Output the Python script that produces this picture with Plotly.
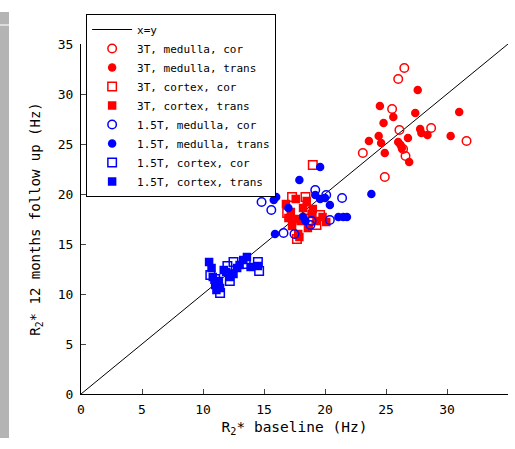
import plotly.graph_objects as go

# ---- data ----
x_line = [0, 35]
y_line = [0, 35]

t3_med_cor_x = [26.5, 26.0, 25.5, 28.7, 26.1, 31.6, 23.1, 26.6, 24.9, 26.4]
t3_med_cor_y = [32.6, 31.5, 28.5, 26.6, 26.4, 25.3, 24.1, 23.8, 21.7, 24.5]

t3_med_tr_x = [27.6, 24.5, 25.6, 27.4, 31.0, 24.8, 27.8, 27.9, 28.4, 30.3, 23.6, 24.4,
               24.6, 24.9, 26.0, 26.8, 26.3, 26.9, 26.2]
t3_med_tr_y = [30.4, 28.8, 27.7, 28.1, 28.2, 27.1, 26.5, 26.1, 25.9, 25.8, 25.3, 25.8,
               25.1, 24.1, 25.2, 25.6, 24.6, 23.2, 24.9]

t3_cor_cor_x = [19.0, 17.3, 18.4, 19.6, 19.3, 17.7, 18.6, 16.9]
t3_cor_cor_y = [22.9, 19.7, 19.7, 17.9, 16.9, 15.5, 18.4, 18.1]

t3_cor_tr_x = [16.8, 17.2, 17.5, 17.3, 17.8, 17.9, 18.2, 18.5, 18.9, 19.3, 19.8, 18.0,
               17.0, 19.0, 18.6, 17.6, 20.1]
t3_cor_tr_y = [19.0, 18.2, 17.5, 16.8, 16.0, 15.7, 18.6, 19.3, 18.0, 17.3, 17.7, 17.3,
               17.6, 18.5, 16.6, 19.5, 17.2]

t15_med_cor_x = [14.8, 15.6, 19.2, 20.1, 21.4, 20.4, 18.8, 16.6, 17.5, 18.9]
t15_med_cor_y = [19.2, 18.4, 20.4, 19.9, 19.6, 17.4, 16.9, 16.1, 16.0, 17.3]

t15_med_tr_x = [19.6, 17.9, 15.8, 16.0, 17.0, 19.2, 19.6, 20.4, 18.2, 18.4, 21.1, 21.5,
                21.8, 15.9, 23.8, 20.0]
t15_med_tr_y = [22.7, 21.4, 19.4, 19.7, 18.6, 19.9, 19.5, 18.9, 17.7, 17.3, 17.7, 17.7,
                17.7, 16.0, 20.0, 19.6]

t15_cor_cor_x = [11.4, 12.5, 14.5, 12.2, 10.6, 11.0, 13.5, 12.0, 14.6]
t15_cor_cor_y = [10.1, 13.2, 13.2, 11.3, 11.9, 11.5, 13.0, 12.8, 12.3]

t15_cor_tr_x = [10.5, 10.7, 10.8, 11.0, 11.1, 11.7, 11.9, 12.2, 12.8, 13.0, 13.3, 13.6,
                13.9, 11.3, 11.4, 14.5, 12.5]
t15_cor_tr_y = [13.2, 12.6, 11.7, 10.9, 10.4, 12.4, 12.2, 11.7, 12.6, 12.9, 13.4, 13.7,
                12.7, 11.3, 10.6, 12.8, 12.0]

tick_vals = [0, 5, 10, 15, 20, 25, 30, 35]

RED = "#ff0000"
BLUE = "#0000ff"
FONT = "DejaVu Sans Mono"

fig = go.Figure()
fig.add_trace(go.Scatter(x=x_line, y=y_line, mode="lines", name="x=y",
                         line=dict(color="black", width=1)))

series = [
    ("3T, medulla, cor", t3_med_cor_x, t3_med_cor_y, "circle-open", RED),
    ("3T, medulla, trans", t3_med_tr_x, t3_med_tr_y, "circle", RED),
    ("3T, cortex, cor", t3_cor_cor_x, t3_cor_cor_y, "square-open", RED),
    ("3T, cortex, trans", t3_cor_tr_x, t3_cor_tr_y, "square", RED),
    ("1.5T, medulla, cor", t15_med_cor_x, t15_med_cor_y, "circle-open", BLUE),
    ("1.5T, medulla, trans", t15_med_tr_x, t15_med_tr_y, "circle", BLUE),
    ("1.5T, cortex, cor", t15_cor_cor_x, t15_cor_cor_y, "square-open", BLUE),
    ("1.5T, cortex, trans", t15_cor_tr_x, t15_cor_tr_y, "square", BLUE),
]
for name, xs, ys, sym, col in series:
    fig.add_trace(go.Scatter(
        x=xs, y=ys, mode="markers", name=name,
        marker=dict(symbol=sym, color=col, size=8.5,
                    line=dict(color=col, width=1.5 if "open" in sym else 0)),
    ))

fig.update_layout(
    width=515, height=449,
    margin=dict(l=81, r=7, t=44, b=55, autoexpand=False),
    paper_bgcolor="white", plot_bgcolor="white",
    font=dict(family=FONT, size=13, color="black"),
    showlegend=True,
    legend=dict(x=0.012, y=1.0857, xanchor="left", yanchor="top",
                bordercolor="black", borderwidth=1, bgcolor="white",
                font=dict(family=FONT, size=11), itemwidth=40,
                tracegroupgap=0),
    xaxis=dict(range=[0, 35], tickvals=tick_vals, ticks="inside", ticklen=5,
               showline=True, linecolor="black", linewidth=1, showgrid=False,
               zeroline=False, mirror=False, ticklabelstandoff=3,
               title=dict(text="R<sub>2</sub>* baseline (Hz)", standoff=6,
                          font=dict(family=FONT, size=14.5))),
    yaxis=dict(range=[0, 35], tickvals=tick_vals, ticks="inside", ticklen=5,
               showline=True, linecolor="black", linewidth=1, showgrid=False,
               zeroline=False, mirror=False, ticklabelstandoff=4,
               title=dict(text="R<sub>2</sub>* 12 months follow up (Hz)", standoff=13,
                          font=dict(family=FONT, size=14))),
    shapes=[
        dict(type="rect", xref="paper", yref="paper",
             x0=-81 / 427, x1=-72 / 427, y0=-44 / 350, y1=382 / 350,
             fillcolor="#b4b4b4", line=dict(width=0), layer="below"),
        dict(type="rect", xref="paper", yref="paper",
             x0=-81 / 427, x1=-72 / 427, y0=368 / 350, y1=370 / 350,
             fillcolor="#dcdcdc", line=dict(width=0), layer="below"),
    ],
)

fig.write_html("out.html", config={"displayModeBar": False},
               post_script="document.body.style.margin='0px';")
